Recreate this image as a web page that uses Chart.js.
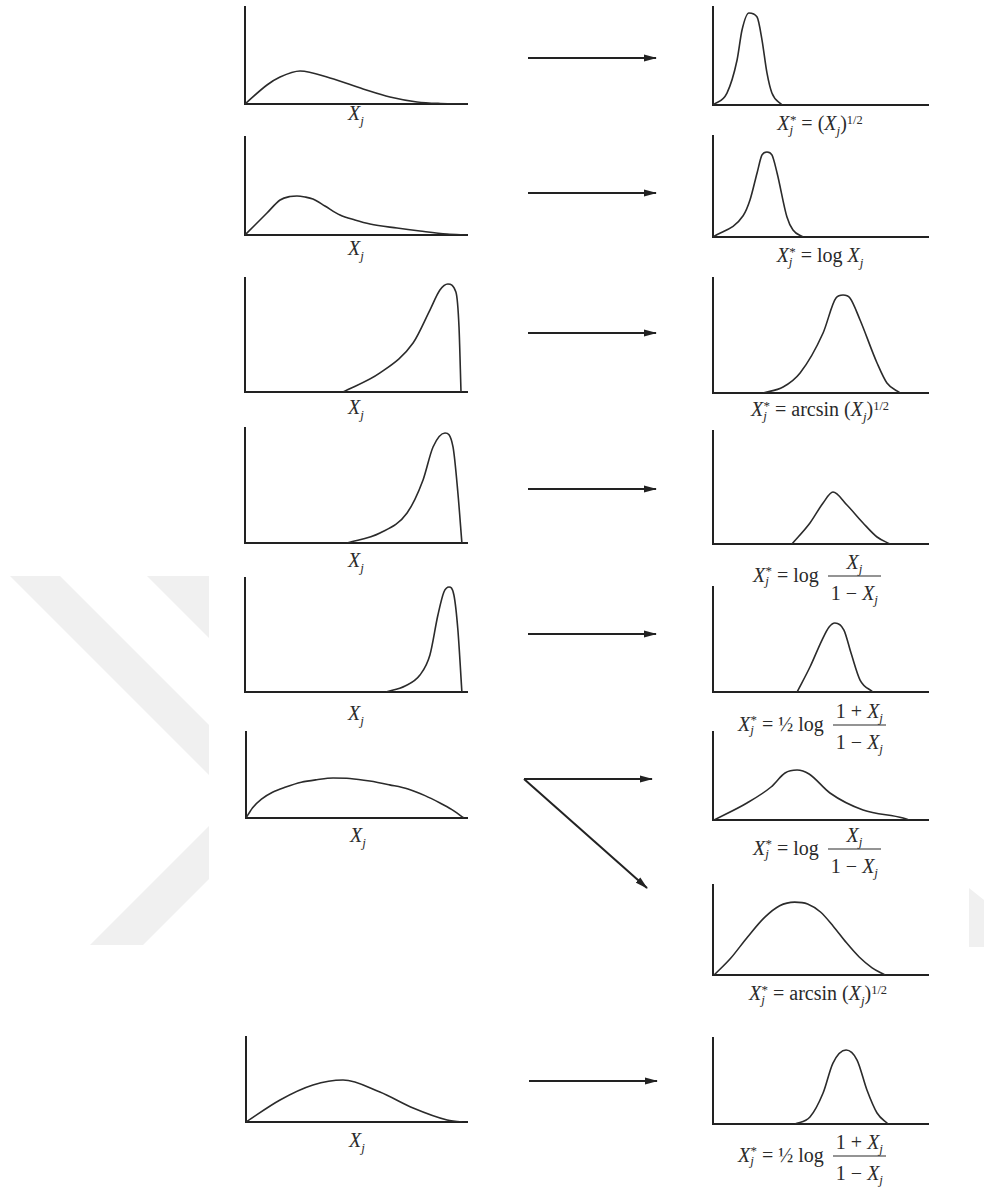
<!DOCTYPE html>
<html>
<head>
<meta charset="utf-8">
<script src="https://cdn.jsdelivr.net/npm/chart.js@4.4.1/dist/chart.umd.min.js"></script>
<style>
  body { margin: 0; background: #fff; }
  #page { position: relative; width: 984px; height: 1188px; overflow: hidden;
          font-family: "Liberation Serif", "DejaVu Serif", serif; color: #2a2a2a; }
  #page canvas { position: absolute; }
  #deco { position: absolute; left: 0; top: 0; }
  .lbl { position: absolute; white-space: nowrap; font-size: 20px; line-height: 1;
         transform: translate(-50%, -50%); }
  .eq { position: absolute; white-space: nowrap; font-size: 20px; line-height: 1;
        display: flex; align-items: center; transform: translateY(-50%); }
  .eq .t { position: relative; top: -3px; }
  .frac { display: inline-flex; flex-direction: column; align-items: stretch; margin-left: 9px; }
  .frac .num { border-bottom: 1.5px solid #2a2a2a; padding: 0 3px 4px; text-align: center; }
  .frac .den { padding: 6px 3px 0; text-align: center; }
  sub { font-size: 0.65em; vertical-align: -0.35em; line-height: 0; font-style: italic; }
  .sj { display: inline-block; position: relative; width: 0.34em; height: 0.7em; }
  .sj sup, .sj sub { position: absolute; left: 0.03em; font-size: 0.65em; line-height: 1; vertical-align: baseline; }
  .sj sup { top: -0.25em; }
  .sj sub { bottom: -0.45em; left: 0; font-style: italic; }
  .ex { font-size: 0.62em; vertical-align: 0.5em; line-height: 0; }
</style>
</head>
<body>
<div id="page">
  <svg id="deco" width="984" height="1188">
    <defs>
      <marker id="ah" markerWidth="13" markerHeight="8" refX="12" refY="4" orient="auto" markerUnits="userSpaceOnUse">
        <path d="M0,0.5 L13,4 L0,7.5 z" fill="#222"/>
      </marker>
    </defs>
    <!-- faint watermark -->
    <g fill="#f0f0f0">
      <polygon points="10,576 60,576 209,725 209,775"/>
      <polygon points="147,576 209,576 209,638"/>
      <polygon points="90,945 143,945 209,879 209,826"/>
      <polygon points="969,888 984,900 984,947 969,947"/>
    </g>
    <!-- arrows -->
    <g stroke="#222" stroke-width="2" marker-end="url(#ah)">
      <line x1="528" y1="58" x2="656" y2="58"/>
      <line x1="528" y1="193" x2="656" y2="193"/>
      <line x1="528" y1="333" x2="656" y2="333"/>
      <line x1="528" y1="489" x2="656" y2="489"/>
      <line x1="528" y1="634" x2="656" y2="634"/>
      <line x1="524" y1="779" x2="652" y2="779"/>
      <line x1="524" y1="779" x2="647" y2="888"/>
      <line x1="529" y1="1081" x2="657" y2="1081"/>
    </g>
  </svg>

  <div class="lbl" style="left:356px;top:113px"><i>X</i><sub>j</sub></div>
  <div class="lbl" style="left:356px;top:248px"><i>X</i><sub>j</sub></div>
  <div class="lbl" style="left:356px;top:407px"><i>X</i><sub>j</sub></div>
  <div class="lbl" style="left:356px;top:560px"><i>X</i><sub>j</sub></div>
  <div class="lbl" style="left:356px;top:713px"><i>X</i><sub>j</sub></div>
  <div class="lbl" style="left:358px;top:835px"><i>X</i><sub>j</sub></div>
  <div class="lbl" style="left:357px;top:1140px"><i>X</i><sub>j</sub></div>

  <div class="lbl" style="left:820px;top:123px"><i>X</i><span class="sj"><sup>*</sup><sub>j</sub></span> = (<i>X</i><sub>j</sub>)<span class="ex">1/2</span></div>
  <div class="lbl" style="left:820px;top:255px"><i>X</i><span class="sj"><sup>*</sup><sub>j</sub></span> = log <i>X</i><sub>j</sub></div>
  <div class="lbl" style="left:820px;top:409px"><i>X</i><span class="sj"><sup>*</sup><sub>j</sub></span> = arcsin (<i>X</i><sub>j</sub>)<span class="ex">1/2</span></div>
  <div class="lbl" style="left:818px;top:993px"><i>X</i><span class="sj"><sup>*</sup><sub>j</sub></span> = arcsin (<i>X</i><sub>j</sub>)<span class="ex">1/2</span></div>

  <div class="eq" style="left:753px;top:577px"><span class="t"><i>X</i><span class="sj"><sup>*</sup><sub>j</sub></span> = log</span>
    <span class="frac"><span class="num"><i>X</i><sub>j</sub></span><span class="den">1 − <i>X</i><sub>j</sub></span></span></div>
  <div class="eq" style="left:738px;top:726px"><span class="t"><i>X</i><span class="sj"><sup>*</sup><sub>j</sub></span> = ½ log</span>
    <span class="frac"><span class="num">1 + <i>X</i><sub>j</sub></span><span class="den">1 − <i>X</i><sub>j</sub></span></span></div>
  <div class="eq" style="left:753px;top:850px"><span class="t"><i>X</i><span class="sj"><sup>*</sup><sub>j</sub></span> = log</span>
    <span class="frac"><span class="num"><i>X</i><sub>j</sub></span><span class="den">1 − <i>X</i><sub>j</sub></span></span></div>
  <div class="eq" style="left:738px;top:1157px"><span class="t"><i>X</i><span class="sj"><sup>*</sup><sub>j</sub></span> = ½ log</span>
    <span class="frac"><span class="num">1 + <i>X</i><sub>j</sub></span><span class="den">1 − <i>X</i><sub>j</sub></span></span></div>
</div>

<script>
// original distributions (left column), x and density in % of axis
const l1X = [0, 9.9, 15.8, 24.8, 38.3, 53.2, 65.3, 77.5, 88, 100];
const l1Y = [0, 19.6, 27.8, 34, 26.8, 15.5, 7.2, 2.1, 0.5, 0];
const l2X = [0, 4.5, 9.9, 15.8, 20.3, 23.4, 27, 30.6, 36, 42.8, 49.5, 56.3, 68.5, 78.8, 91, 100];
const l2Y = [0, 10.2, 22.4, 35.7, 39.3, 39.8, 38.8, 36.7, 29.6, 20.4, 15.3, 11.2, 7.1, 4.1, 1, 0];
const l3X = [44.1, 60.8, 75.7, 83.3, 87.8, 91.4, 95, 96.4, 97.3];
const l3Y = [0, 16.7, 43, 71.9, 89.5, 94.7, 87.7, 57, 0];
const l4X = [45.9, 60.8, 73, 80.2, 84.7, 90.1, 93.7, 95.9, 97.7];
const l4Y = [0, 8.7, 26.1, 54.8, 83.5, 95.7, 83.5, 43.5, 0];
const l5X = [63.5, 72.1, 78.8, 83.3, 86.9, 89.6, 91.9, 94.1, 95.9, 97.7];
const l5Y = [0, 5.3, 14.9, 32.5, 67.5, 87.7, 92.1, 85.1, 54.4, 0];
const l6X = [0, 3, 7, 12, 18, 25, 32, 39.4, 47, 56, 65, 73.3, 81, 87.8, 93, 98.6];
const l6Y = [0, 12, 22, 30, 36, 41.5, 44.5, 46.5, 46, 43, 38.5, 33.7, 26, 17.4, 10, 0];
const l8X = [0, 15.4, 30.3, 43.9, 60.6, 75.6, 91, 97.7];
const l8Y = [0, 25.9, 43.5, 49.4, 35.3, 16.5, 2.4, 0];

// transformed distributions (right column)
const r1X = [0, 6.5, 11.2, 13.5, 16.7, 20.5, 22.8, 25.1, 27.4, 32.1];
const r1Y = [0, 12.2, 45.9, 76.5, 93.9, 89.8, 66.3, 32.7, 12.2, 0];
const r2X = [0, 14, 17.2, 20.5, 22.8, 25.1, 27.4, 29.8, 34.4, 37.2, 41.9];
const r2Y = [0, 21, 36.6, 63.4, 81.2, 84.2, 81.2, 63.4, 19.8, 6.9, 0];
const r3X = [23.3, 32.6, 40.5, 51.2, 57.2, 60.5, 63.7, 68.4, 76.3, 80.9, 87];
const r3Y = [0, 5.2, 17.4, 52.2, 82.6, 85.2, 82.6, 63.5, 26.1, 8.7, 0];
const r4X = [36.7, 45.1, 51.2, 55.8, 62.3, 69.8, 76.3, 82.3];
const r4Y = [0, 18.6, 36.3, 46, 34.5, 18.6, 6.2, 0];
const r5X = [39.1, 45.1, 50.7, 54, 56.7, 60.9, 64.2, 68.4, 74.4];
const r5Y = [0, 23.8, 49.5, 61.9, 65.7, 59, 37.1, 11.4, 0];
const r6X = [0.5, 15.8, 27, 33.5, 39.1, 44.7, 54.4, 69.8, 88.4, 91.2];
const r6Y = [0, 19.3, 37.5, 53.4, 56.8, 52.3, 30.7, 11.4, 2.3, 0];
const r7X = [0.5, 8, 16, 24, 31, 38, 44, 50, 56, 62, 68, 74, 80];
const r7Y = [0, 18, 42, 64, 77, 81, 79, 70, 54, 36, 20, 8, 0];
const r8X = [38.1, 45.1, 51.2, 55.8, 61.9, 67, 71.6, 76.3, 81.4];
const r8Y = [0, 8.1, 36, 70.9, 86, 74.4, 39.5, 12.8, 0];

// layout: [left, top, width, height] of each axis box on the page
const panels = [
  { box: [245, 7, 222, 97], xs: l1X, ys: l1Y },
  { box: [245, 137, 222, 98], xs: l2X, ys: l2Y },
  { box: [245, 278, 222, 114], xs: l3X, ys: l3Y },
  { box: [245, 428, 222, 115], xs: l4X, ys: l4Y },
  { box: [245, 578, 222, 114], xs: l5X, ys: l5Y },
  { box: [246, 732, 221, 86], xs: l6X, ys: l6Y },
  { box: [246, 1037, 221, 85], xs: l8X, ys: l8Y },
  { box: [713, 7, 215, 98], xs: r1X, ys: r1Y },
  { box: [713, 136, 215, 101], xs: r2X, ys: r2Y },
  { box: [713, 278, 215, 115], xs: r3X, ys: r3Y },
  { box: [713, 431, 215, 113], xs: r4X, ys: r4Y },
  { box: [713, 587, 215, 105], xs: r5X, ys: r5Y },
  { box: [713, 732, 215, 88], xs: r6X, ys: r6Y },
  { box: [713, 885, 215, 90], xs: r7X, ys: r7Y },
  { box: [713, 1038, 215, 86], xs: r8X, ys: r8Y }
];

const page = document.getElementById('page');
const pad = 3;

function axis() {
  return {
    type: 'linear', min: 0, max: 100,
    ticks: { display: false },
    grid: { display: false, drawTicks: false },
    border: { display: true, color: '#222', width: 2 }
  };
}

panels.forEach(p => {
  const [left, top, w, h] = p.box;
  const cv = document.createElement('canvas');
  cv.width = w + 2 * pad;
  cv.height = h + 2 * pad;
  cv.style.left = (left - pad) + 'px';
  cv.style.top = (top - pad) + 'px';
  page.appendChild(cv);

  new Chart(cv, {
    type: 'line',
    data: {
      datasets: [{
        data: p.xs.map((x, i) => ({ x: x, y: p.ys[i] })),
        borderColor: '#2b2b2b',
        borderWidth: 1.6,
        pointRadius: 0,
        cubicInterpolationMode: 'monotone',
        fill: false
      }]
    },
    options: {
      responsive: false,
      animation: false,
      layout: { padding: pad },
      plugins: { legend: { display: false }, tooltip: { enabled: false } },
      scales: { x: axis(), y: axis() }
    }
  });
});
</script>
</body>
</html>
